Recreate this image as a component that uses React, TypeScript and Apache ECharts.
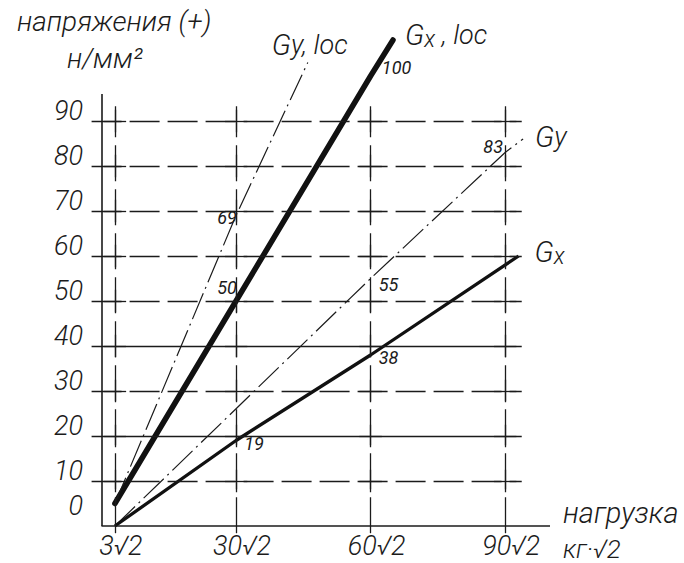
import React, { useEffect, useRef } from "react";
import * as echarts from "echarts";

// ---- data ----
const xTicks = [3, 30, 60, 90];
const yTicks = [0, 10, 20, 30, 40, 50, 60, 70, 80, 90];
const solidRows = [20, 40];
const dashedRows = [10, 30, 50, 60, 70, 80, 90];

// σx,loc (thick)
const sxLocPts = [[3, 5], [30, 50], [60, 100], [65, 108]];
const sxLocLabels = ["", "50", "100", ""];
// σy,loc (thin dash-dot)
const syLocPts = [[3, 5], [30, 69], [46, 103]];
const syLocLabels = ["", "69", ""];
// σy (thin dash-dot)
const syPts = [[3, 0], [60, 55], [90, 83], [94, 86]];
const syLabels = ["", "55", "83", ""];
// σx (medium)
const sxPts = [[3, 0], [30, 19], [60, 38], [93, 60]];
const sxLabels = ["", "19", "38", ""];

// ---- styling ----
const FONT = "Roboto, 'DejaVu Sans Condensed', sans-serif";
const INK = "#1b1b1b";
const W = 300;
const labelOffsets: Record<string, number[]> = {
  "50": [-9, -14],
  "100": [26, -9],
  "69": [-9, 2],
  "55": [18, 6],
  "83": [-12, -6],
  "38": [18, 2],
  "19": [18, 3],
};

const X_MIN = -3, X_MAX = 100, Y_MIN = -2, Y_MAX = 110;
const H_FROM = -2.2, H_TO = 93.7, V_FROM = -1.6, V_TO = 93.3;
const Y_AXIS_TOP = 96, CROSS = 2.5;

function buildData(pts: number[][], labels: string[]) {
  return pts.map((p, i) => {
    const t = labels[i];
    if (!t) return { value: p, label: { show: false } };
    return {
      value: p,
      label: {
        show: true,
        position: "inside",
        formatter: t,
        offset: labelOffsets[t],
        fontFamily: FONT,
        fontStyle: "italic",
        fontWeight: 400,
        fontSize: 18,
        color: INK,
      },
    };
  });
}

function helper(name: string, data: any[], lineStyle: any) {
  return {
    type: "line",
    name,
    data: [],
    silent: true,
    markLine: {
      silent: true,
      symbol: ["none", "none"],
      label: { show: false },
      emphasis: { disabled: true },
      lineStyle,
      data,
    },
  };
}

function nameLabel(rich: string, offset: number[]) {
  const base = { fontFamily: FONT, fontStyle: "italic", fontWeight: W, color: INK };
  return {
    show: true,
    formatter: rich,
    offset,
    ...base,
    fontSize: 27,
    rich: {
      g: { ...base, fontSize: 29 },
      s: { ...base, fontSize: 23, padding: [8, 0, 0, 0] },
      n: { ...base, fontSize: 27 },
    },
  };
}

const lineCommon = {
  type: "line",
  symbol: "circle",
  symbolSize: 2,
  showSymbol: true,
  clip: false,
  itemStyle: { color: "rgba(0,0,0,0)", borderWidth: 0 },
  emphasis: { disabled: true },
};

export default function App() {
  const ref = useRef<HTMLDivElement>(null);
  useEffect(() => {
    document.body.style.margin = "0";
    const chart = echarts.init(ref.current!, null, { renderer: "svg" });

    const hDashed = dashedRows.map((r) => [{ coord: [H_FROM, r] }, { coord: [H_TO, r] }]);
    const hSolid = solidRows.map((r) => [{ coord: [H_FROM, r] }, { coord: [H_TO, r] }]);
    const vDashed = xTicks.map((c) => [{ coord: [c, V_FROM] }, { coord: [c, V_TO] }]);
    const crosses: any[] = [];
    yTicks.filter((r) => r > 0).forEach((r) => {
      xTicks.forEach((c) => {
        crosses.push([{ coord: [c - CROSS, r] }, { coord: [c + CROSS, r] }]);
        crosses.push([{ coord: [c, r - CROSS] }, { coord: [c, r + CROSS] }]);
      });
    });
    const axes = [
      [{ coord: [0, 0] }, { coord: [X_MAX, 0] }],
      [{ coord: [0, 0] }, { coord: [0, Y_AXIS_TOP] }],
    ];

    const numLabel = {
      fontFamily: FONT,
      fontStyle: "italic",
      fontWeight: W,
      color: INK,
    };

    chart.setOption({
      animation: false,
      backgroundColor: "#ffffff",
      grid: { left: 88, right: 134, top: 31, bottom: 28, containLabel: false, outerBoundsMode: "none" },
      xAxis: {
        type: "value",
        min: X_MIN,
        max: X_MAX,
        axisLine: { show: false },
        axisTick: { show: false },
        splitLine: { show: false },
        axisLabel: {
          ...numLabel,
          customValues: xTicks,
          formatter: (v: number) => `${v}√2`,
          fontSize: 27,
          lineHeight: 24,
          margin: -1,
          padding: [0, 0, 0, 12],
        },
      },
      yAxis: {
        type: "value",
        min: Y_MIN,
        max: Y_MAX,
        axisLine: { show: false },
        axisTick: { show: false },
        splitLine: { show: false },
        axisLabel: {
          ...numLabel,
          customValues: yTicks,
          formatter: (v: number) => (v === 0 ? "{z|0}" : `${v}`),
          fontSize: 27,
          lineHeight: 20,
          margin: 5,
          verticalAlign: "bottom",
          rich: { z: { ...numLabel, fontSize: 27, lineHeight: 40 } },
        },
      },
      graphic: [
        { type: "text", left: 17, top: 7, style: { text: "напряжения (+)", font: `italic ${W} 28px ${FONT}`, fill: INK } },
        { type: "text", left: 67, top: 44, style: { text: "н/мм²", font: `italic ${W} 28px ${FONT}`, fill: INK } },
        { type: "text", left: 563, top: 498, style: { text: "нагрузка", font: `italic ${W} 29px ${FONT}`, fill: INK } },
        { type: "text", left: 563, top: 536, style: { text: "кг·√2", font: `italic ${W} 26px ${FONT}`, fill: INK } },
      ],
      series: [
        helper("axes", axes, { color: INK, width: 1.6, type: "solid" }),
        helper("hDashed", hDashed, { color: INK, width: 1.3, type: [30, 8] }),
        helper("hSolid", hSolid, { color: INK, width: 1.3, type: "solid" }),
        helper("vDashed", vDashed, { color: INK, width: 1.3, type: [36, 8] }),
        helper("crosses", crosses, { color: INK, width: 1.3, type: "solid" }),
        {
          ...lineCommon,
          name: "σx,loc",
          data: buildData(sxLocPts, sxLocLabels),
          lineStyle: { color: "#111", width: 5.5, cap: "round" },
          endLabel: nameLabel("{g|G}{s|x}{n| , loc}", [4, -5]),
        },
        {
          ...lineCommon,
          name: "σy,loc",
          data: buildData(syLocPts, syLocLabels),
          lineStyle: { color: INK, width: 1.2, type: [28, 5, 2, 5] },
          endLabel: nameLabel("{g|G}{n|y, loc}", [-44, -18]),
        },
        {
          ...lineCommon,
          name: "σy",
          data: buildData(syPts, syLabels),
          lineStyle: { color: INK, width: 1.2, type: [28, 5, 2, 5] },
          endLabel: nameLabel("{g|G}{n|y}", [4, -2]),
        },
        {
          ...lineCommon,
          name: "σx",
          data: buildData(sxPts, sxLabels),
          lineStyle: { color: "#111", width: 3.3 },
          endLabel: nameLabel("{g|G}{s|x}", [8, -4]),
        },
      ],
    });
    return () => chart.dispose();
  }, []);
  return <div ref={ref} style={{ width: 684, height: 563 }} />;
}
